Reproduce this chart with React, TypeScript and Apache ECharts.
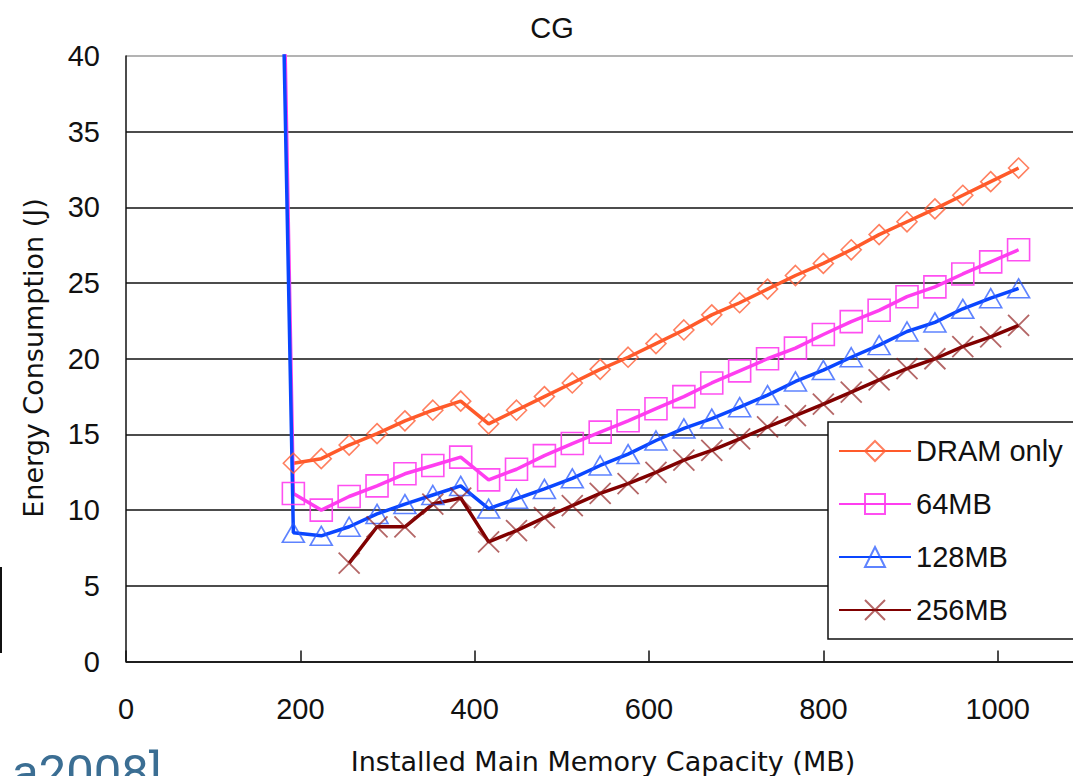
import { useEffect, useRef } from "react";
import * as echarts from "echarts";

// Installed main memory capacity (MB) for each measured point
const memoryMB = [
  192, 224, 256, 288, 320, 352, 384, 416, 448, 480, 512, 544, 576, 608,
  640, 672, 704, 736, 768, 800, 832, 864, 896, 928, 960, 992, 1024,
];
const spikeMB = 160;
const memoryMB256 = [
  256, 288, 320, 352, 384, 416, 448, 480, 512, 544, 576, 608, 640, 672,
  704, 736, 768, 800, 832, 864, 896, 928, 960, 992, 1024,
];

// Energy consumption (J)
const dramOnly = [
  13.1, 13.4, 14.3, 15.05, 15.9, 16.6, 17.2, 15.7, 16.6, 17.5, 18.4, 19.3, 20.1, 21.0,
  21.9, 22.9, 23.7, 24.6, 25.5, 26.3, 27.2, 28.2, 29.05, 29.9, 30.8, 31.7, 32.6,
];
const mb64Spike = 110;
const mb64 = [
  11.1, 10.0, 10.9, 11.6, 12.4, 12.95, 13.5, 12.0, 12.7, 13.6, 14.4, 15.15, 15.9, 16.7,
  17.5, 18.4, 19.2, 20.0, 20.7, 21.6, 22.45, 23.2, 24.1, 24.75, 25.6, 26.4, 27.2,
];
const mb128Spike = 104;
const mb128 = [
  8.5, 8.3, 8.9, 9.75, 10.4, 11.0, 11.6, 10.1, 10.75, 11.4, 12.1, 12.95, 13.7, 14.6,
  15.4, 16.05, 16.8, 17.6, 18.5, 19.25, 20.1, 20.9, 21.8, 22.4, 23.3, 24.0, 24.65,
];
const mb256 = [
  6.5, 8.9, 8.9, 10.4, 10.8, 7.9, 8.65, 9.5, 10.3, 11.1, 11.75, 12.5, 13.3, 13.95,
  14.7, 15.5, 16.25, 17.0, 17.8, 18.6, 19.35, 20.0, 20.8, 21.45, 22.2,
];

const seriesNames = ["DRAM only", "64MB", "128MB", "256MB"];
const chartTitle = "CG";
const xTitle = "Installed Main Memory Capacity (MB)";
const yTitle = "Energy Consumption (J)";
const citation = "a2008]";

const pairs = (xs: number[], ys: number[]) => xs.map((x, i) => [x, ys[i]]);

export default function App() {
  const ref = useRef<HTMLDivElement>(null);
  useEffect(() => {
    const chart = echarts.init(ref.current!, null, { renderer: "svg" });
    const labelFont = "Liberation Sans, Arial, sans-serif";
    chart.setOption({
      animation: false,
      backgroundColor: "#fff",
      grid: {
        left: 126,
        top: 56,
        right: -99,
        bottom: 114.5,
        containLabel: false,
        outerBoundsMode: "none",
      },
      xAxis: {
        type: "value",
        min: 0,
        max: 1200,
        interval: 200,
        axisLine: { show: true, lineStyle: { color: "#111", width: 1.5 } },
        axisTick: { show: true, inside: true, length: 11, lineStyle: { color: "#111", width: 1.5 } },
        axisLabel: {
          color: "#111",
          fontSize: 29,
          fontFamily: labelFont,
          margin: 33,
          showMaxLabel: false,
          formatter: (v: number) => String(v),
        },
        splitLine: { show: false },
      },
      yAxis: {
        type: "value",
        min: 0,
        max: 40,
        interval: 5,
        axisLine: { show: true, lineStyle: { color: "#111", width: 1.5 } },
        axisTick: { show: false },
        axisLabel: {
          color: "#111",
          fontSize: 29,
          fontFamily: labelFont,
          margin: 26,
          padding: [9, 0, 0, 0],
        },
        splitLine: {
          show: true,
          lineStyle: {
            color: ["#111", "#111", "#111", "#111", "#111", "#111", "#111", "#111", "#9a9a9a"],
            width: 1.6,
          },
        },
      },
      legend: {
        orient: "vertical",
        left: 828,
        top: 422,
        itemWidth: 72,
        itemHeight: 25,
        itemGap: 23,
        padding: [14, 40, 14, 10],
        borderColor: "#111",
        borderWidth: 1.5,
        backgroundColor: "#fff",
        data: seriesNames,
        textStyle: { color: "#111", fontSize: 29, fontFamily: labelFont, lineHeight: 30 },
      },
      graphic: [
        {
          type: "text",
          x: 552,
          y: 28,
          style: {
            text: chartTitle,
            font: "29px Liberation Sans",
            fill: "#111",
            textAlign: "center",
            textVerticalAlign: "middle",
          },
        },
        {
          type: "text",
          x: 603,
          y: 761,
          style: {
            text: xTitle,
            font: "27px DejaVu Sans",
            fill: "#111",
            textAlign: "center",
            textVerticalAlign: "middle",
          },
        },
        {
          type: "text",
          x: 33,
          y: 358,
          rotation: Math.PI / 2,
          style: {
            text: yTitle,
            font: "27px DejaVu Sans",
            fill: "#111",
            textAlign: "center",
            textVerticalAlign: "middle",
          },
        },
        {
          type: "text",
          x: 12,
          y: 772,
          style: {
            text: citation,
            font: "49px Roboto",
            fill: "#3b6e93",
            textAlign: "left",
            textVerticalAlign: "middle",
          },
        },
        {
          type: "line",
          shape: { x1: 1, y1: 567, x2: 1, y2: 653 },
          style: { stroke: "#111", lineWidth: 2 },
        },
      ],
      series: [
        {
          name: seriesNames[0],
          type: "line",
          data: pairs(memoryMB, dramOnly),
          symbol: "diamond",
          symbolSize: 20,
          lineStyle: { color: "#ff5a2a", width: 3.5 },
          itemStyle: { color: "transparent", borderColor: "rgba(255,95,55,0.8)", borderWidth: 1.6 },
          emphasis: { disabled: true },
        },
        {
          name: seriesNames[1],
          type: "line",
          data: pairs([spikeMB, ...memoryMB], [mb64Spike, ...mb64]),
          symbol: "rect",
          symbolSize: 22,
          lineStyle: { color: "#ff3ef0", width: 3.5 },
          itemStyle: { color: "transparent", borderColor: "rgba(255,60,240,0.9)", borderWidth: 1.6 },
          emphasis: { disabled: true },
        },
        {
          name: seriesNames[2],
          type: "line",
          data: pairs([spikeMB, ...memoryMB], [mb128Spike, ...mb128]),
          symbol: "triangle",
          symbolSize: [22, 19],
          lineStyle: { color: "#0a46ff", width: 3.5 },
          itemStyle: { color: "transparent", borderColor: "rgba(40,90,255,0.75)", borderWidth: 1.6 },
          emphasis: { disabled: true },
        },
        {
          name: seriesNames[3],
          type: "line",
          data: pairs(memoryMB256, mb256),
          symbol: "path://M0,0L10,10M10,0L0,10",
          symbolSize: 21,
          lineStyle: { color: "#800000", width: 3.5 },
          itemStyle: { color: "transparent", borderColor: "rgba(140,20,20,0.65)", borderWidth: 1.8 },
          emphasis: { disabled: true },
        },
      ],
    });
    return () => chart.dispose();
  }, []);
  return (
    <div
      ref={ref}
      style={{ position: "fixed", left: 0, top: 0, width: 1073, height: 776 }}
    />
  );
}
